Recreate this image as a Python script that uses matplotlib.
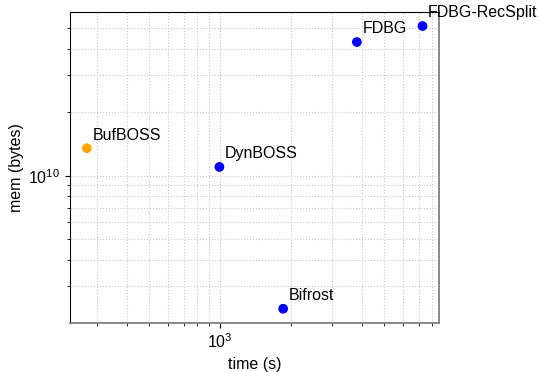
import matplotlib
matplotlib.use("Agg")
import matplotlib.pyplot as plt

plt.rcParams['font.family'] = ['Liberation Sans', 'DejaVu Sans']
plt.rcParams['font.size'] = 11.5

# adatok
tools = ["BufBOSS", "DynBOSS", "Bifrost", "FDBG", "FDBG-RecSplit"]
time_s = [271, 993, 1854, 3816, 7260]
mem_bytes = [1.35e10, 1.10e10, 2.34e9, 4.3e10, 5.12e10]
colors = ["orange", "blue", "blue", "blue", "blue"]

fig = plt.figure(figsize=(5.39, 3.72), dpi=100)
ax = fig.add_axes([0.130, 0.132, 0.685, 0.836])

ax.scatter(time_s, mem_bytes, c=colors, s=36, zorder=3)
for name, x, y in zip(tools, time_s, mem_bytes):
    ax.annotate(name, (x, y), xytext=(4, 4), textcoords="offset points",
                ha="left", va="bottom", fontsize=11.5, zorder=4)

ax.set_xscale("log")
ax.set_yscale("log")
ax.set_xlabel("time (s)")
ax.set_ylabel("mem (bytes)", labelpad=3)

ax.grid(True, which="both", linestyle=":", color="#c8c8c8", linewidth=0.8)
ax.spines["bottom"].set_color("#808080")
ax.spines["right"].set_color("#808080")
ax.spines["bottom"].set_linewidth(1.3)
ax.spines["right"].set_linewidth(1.3)

fig.savefig("out.png", dpi=100)
